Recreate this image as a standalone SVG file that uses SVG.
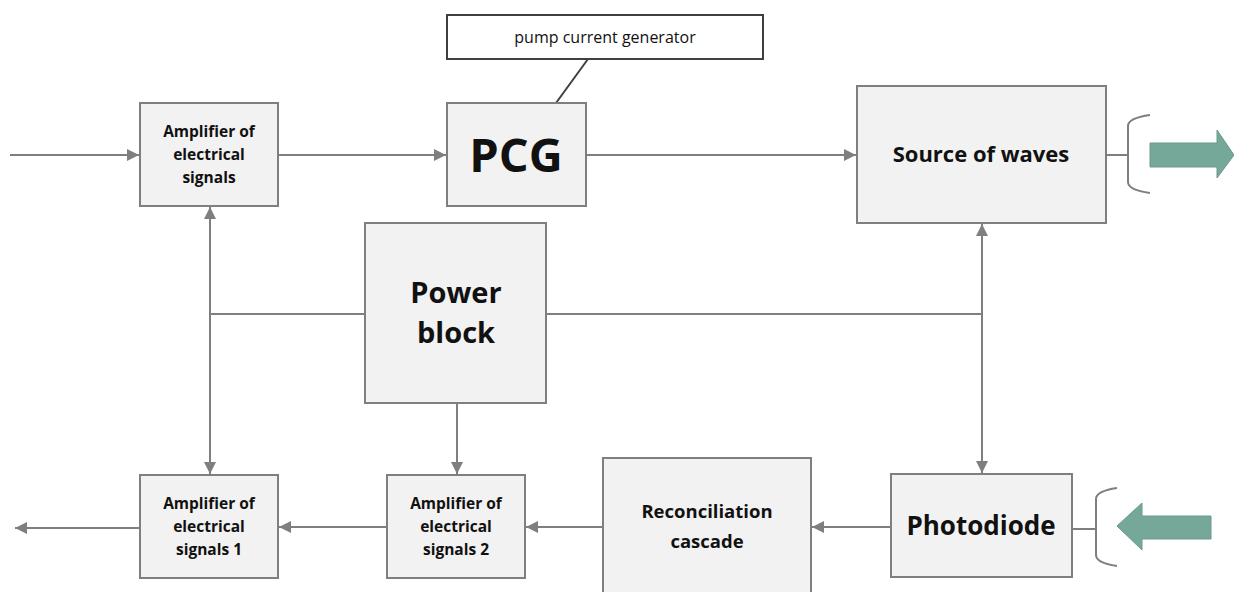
<svg xmlns="http://www.w3.org/2000/svg" width="1234" height="592" viewBox="0 0 1234 592">
<style>
.box{fill:#f2f2f2;stroke:#7f7f7f;stroke-width:2}
.lbl{fill:#fff;stroke:#404040;stroke-width:2}
.c{stroke:#7f7f7f;stroke-width:2;fill:none}
.t{font-family:"Open Sans",Lato,sans-serif;font-weight:bold;fill:#111;text-anchor:middle}
.s{font-size:15.5px}
.g{fill:#76a89a;stroke:#6a998c;stroke-width:1}
</style>
<defs>
<marker id="ar" viewBox="0 0 10 10" refX="10" refY="5" markerWidth="6" markerHeight="6" orient="auto" markerUnits="strokeWidth">
<path d="M0,0 L10,5 L0,10 z" fill="#7f7f7f"/>
</marker>
</defs>
<g id="connectors">
<line class="c" x1="10" y1="155" x2="139" y2="155" marker-end="url(#ar)"/>
<line class="c" x1="278" y1="155" x2="446" y2="155" marker-end="url(#ar)"/>
<line class="c" x1="586" y1="155" x2="856" y2="155" marker-end="url(#ar)"/>
<line x1="588" y1="59" x2="556" y2="103" stroke="#404040" stroke-width="2"/>
<line class="c" x1="365" y1="314" x2="210" y2="314"/>
<line class="c" x1="210" y1="314" x2="210" y2="207" marker-end="url(#ar)"/>
<line class="c" x1="210" y1="314" x2="210" y2="474" marker-end="url(#ar)"/>
<line class="c" x1="546" y1="314" x2="982" y2="314"/>
<line class="c" x1="982" y1="314" x2="982" y2="224" marker-end="url(#ar)"/>
<line class="c" x1="982" y1="314" x2="982" y2="473" marker-end="url(#ar)"/>
<line class="c" x1="457" y1="404" x2="457" y2="474" marker-end="url(#ar)"/>
<line class="c" x1="891" y1="527" x2="812" y2="527" marker-end="url(#ar)"/>
<line class="c" x1="603" y1="527" x2="526" y2="527" marker-end="url(#ar)"/>
<line class="c" x1="387" y1="527" x2="279" y2="527" marker-end="url(#ar)"/>
<line class="c" x1="140" y1="528" x2="15" y2="528" marker-end="url(#ar)"/>
<line class="c" x1="1106" y1="155" x2="1128" y2="155"/>
<path class="c" d="M1150,115 Q1128,118 1128,126 L1128,182 Q1128,190 1150,193"/>
<line class="c" x1="1072" y1="529" x2="1096" y2="529"/>
<path class="c" d="M1117,488 Q1096,491 1096,499 L1096,555 Q1096,563 1117,566"/>
</g>
<g id="amp-top">
<rect class="box" x="140" y="103" width="138" height="103"/>
<text class="t s" x="209" y="137">Amplifier of</text>
<text class="t s" x="209" y="160">electrical</text>
<text class="t s" x="209" y="183">signals</text>
</g>
<g id="pcg">
<rect class="box" x="447" y="103" width="139" height="103"/>
<text class="t" x="516" y="172" font-size="47">PCG</text>
</g>
<g id="pcg-label">
<rect class="lbl" x="447" y="15" width="316" height="44"/>
<text x="605" y="43" font-family="'Open Sans',Lato,sans-serif" font-size="16" text-anchor="middle" fill="#111">pump current generator</text>
</g>
<g id="source">
<rect class="box" x="857" y="86" width="249" height="137"/>
<text class="t" x="981" y="162" font-size="22">Source of waves</text>
</g>
<g id="out-beam">
<path class="g" d="M1150,143 L1217,143 L1217,130 L1234,155 L1217,178 L1217,167 L1150,167 z"/>
</g>
<g id="power">
<rect class="box" x="365" y="223" width="181" height="180"/>
<text class="t" x="456" y="303" font-size="29">Power</text>
<text class="t" x="456" y="343" font-size="29">block</text>
</g>
<g id="amp1">
<rect class="box" x="140" y="475" width="138" height="103"/>
<text class="t s" x="209" y="509">Amplifier of</text>
<text class="t s" x="209" y="532">electrical</text>
<text class="t s" x="209" y="555">signals 1</text>
</g>
<g id="amp2">
<rect class="box" x="387" y="475" width="138" height="103"/>
<text class="t s" x="456" y="509">Amplifier of</text>
<text class="t s" x="456" y="532">electrical</text>
<text class="t s" x="456" y="555">signals 2</text>
</g>
<g id="reconciliation">
<rect class="box" x="603" y="458" width="208" height="140"/>
<text class="t" x="707" y="518" font-size="18.5">Reconciliation</text>
<text class="t" x="707" y="548" font-size="18.5">cascade</text>
</g>
<g id="photodiode">
<rect class="box" x="891" y="474" width="181" height="103"/>
<text class="t" x="981" y="535" font-size="26">Photodiode</text>
</g>
<g id="in-beam">
<path class="g" d="M1117,526 L1142,503 L1142,516 L1211,516 L1211,539 L1142,539 L1142,550 z"/>
</g>
</svg>
